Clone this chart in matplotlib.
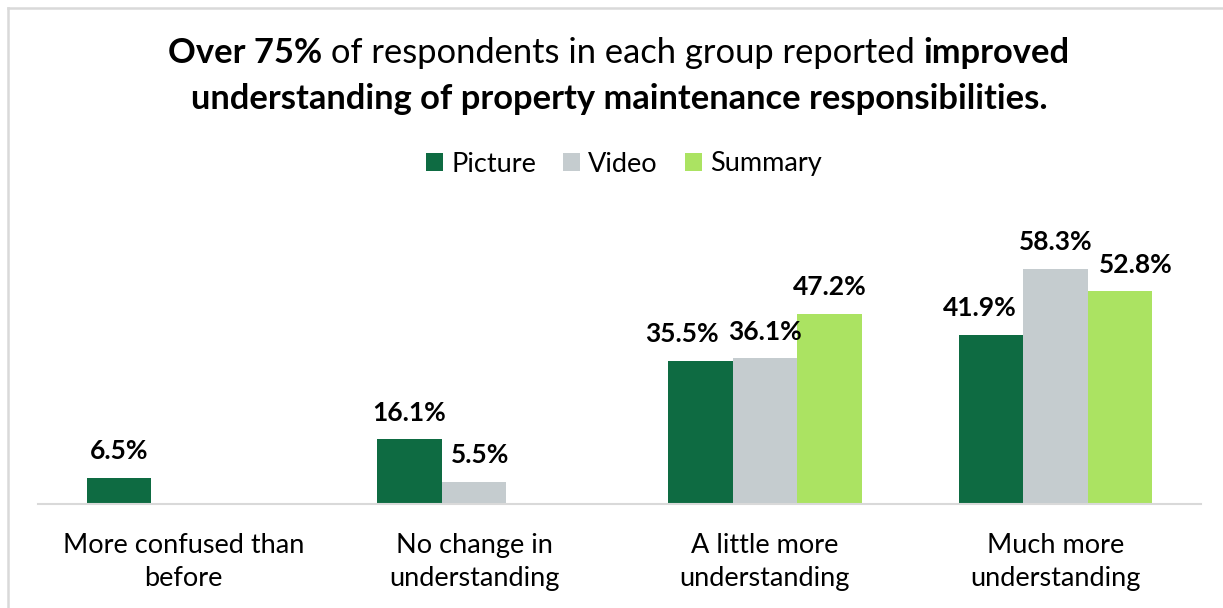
import matplotlib
matplotlib.use("Agg")
import matplotlib.pyplot as plt
import numpy as np
from matplotlib.lines import Line2D

categories = ["More confused than\nbefore", "No change in\nunderstanding",
              "A little more\nunderstanding", "Much more\nunderstanding"]
series_names = ["Picture", "Video", "Summary"]
picture = [6.5, 16.1, 35.5, 41.9]
video = [None, 5.5, 36.1, 58.3]
summary = [None, None, 47.2, 52.8]
colors = ["#0E6B42", "#C5CCCF", "#ABE362"]

# horizontal nudges (pixels) for crowded value labels: (series, category) -> dx
label_nudge = {(0, 2): -18, (0, 3): -11, (2, 3): 16, (1, 1): 6}

FONT = "Lato"
W, H = 1223, 608
fig = plt.figure(figsize=(W / 100, H / 100), dpi=100)

# axes placed in pixel terms: baseline at y=504, x from 38 to 1201
x0, x1 = 38, 1201
ybase, ytop = 504, 262
ax = fig.add_axes([x0 / W, 1 - ybase / H, (x1 - x0) / W, (ybase - ytop) / H])
ax.set_xlim(-0.5, len(categories) - 0.5)
ax.set_ylim(0, 60)

bw = 0.222
offsets = [-bw, 0, bw]
handles = []
for s, (vals, col, name) in enumerate(zip([picture, video, summary], colors, series_names)):
    idx = [i for i, v in enumerate(vals) if v is not None]
    xs = [i + offsets[s] for i in idx]
    hs = [vals[i] for i in idx]
    bars = ax.bar(xs, hs, width=bw, color=col, label=name, zorder=2)
    handles.append(bars)
    for i, x, v in zip(idx, xs, hs):
        dx = label_nudge.get((s, i), 0) * 72 / 100
        ax.annotate(f"{v:.1f}%", xy=(x, v + 3.6), xytext=(dx, 0),
                    textcoords="offset points", ha="center", va="bottom",
                    fontsize=19, fontweight="bold", family=FONT,
                    annotation_clip=False)

for sp in ["top", "right", "left"]:
    ax.spines[sp].set_visible(False)
ax.spines["bottom"].set_color("#D9D9D9")
ax.spines["bottom"].set_linewidth(1.5)
ax.set_yticks([])
ax.set_xticks(range(len(categories)))
ax.set_xticklabels(categories, fontsize=19.5, family=FONT, linespacing=1.38)
ax.tick_params(axis="x", length=0, pad=21)

# legend
leg = fig.legend(handles=handles, labels=series_names, loc="center",
                 bbox_to_anchor=(624 / W, 1 - 164 / H), ncol=3, frameon=False,
                 prop={"family": FONT, "size": 19.5}, handlelength=0.63,
                 handleheight=0.63, handletextpad=0.3, columnspacing=1.0)

# frame lines at top and left
fig.add_artist(Line2D([7.5 / W, 7.5 / W], [0, 1 - 7.5 / H], color="#D9D9D9", lw=1.8,
                      transform=fig.transFigure))
fig.add_artist(Line2D([7.5 / W, 1], [1 - 7.5 / H, 1 - 7.5 / H], color="#D9D9D9", lw=1.8,
                      transform=fig.transFigure))

# title with mixed bold / regular runs, each line centred
title_lines = [
    [("Over 75%", "bold"), (" of respondents in each group reported ", "normal"), ("improved", "bold")],
    [("understanding of property maintenance responsibilities.", "bold")],
]
title_y = [53, 99]
title_cx = 619
renderer = fig.canvas.get_renderer()
for runs, yc in zip(title_lines, title_y):
    texts = []
    for s, w in runs:
        t = fig.text(0, 1 - yc / H, s, fontsize=24.8, fontweight=w, family=FONT,
                     va="center", ha="left")
        texts.append(t)
    widths = [t.get_window_extent(renderer).width for t in texts]
    total = sum(widths)
    x = title_cx - total / 2
    for t, w in zip(texts, widths):
        t.set_x(x / W)
        x += w

fig.savefig("out.png", dpi=100)
